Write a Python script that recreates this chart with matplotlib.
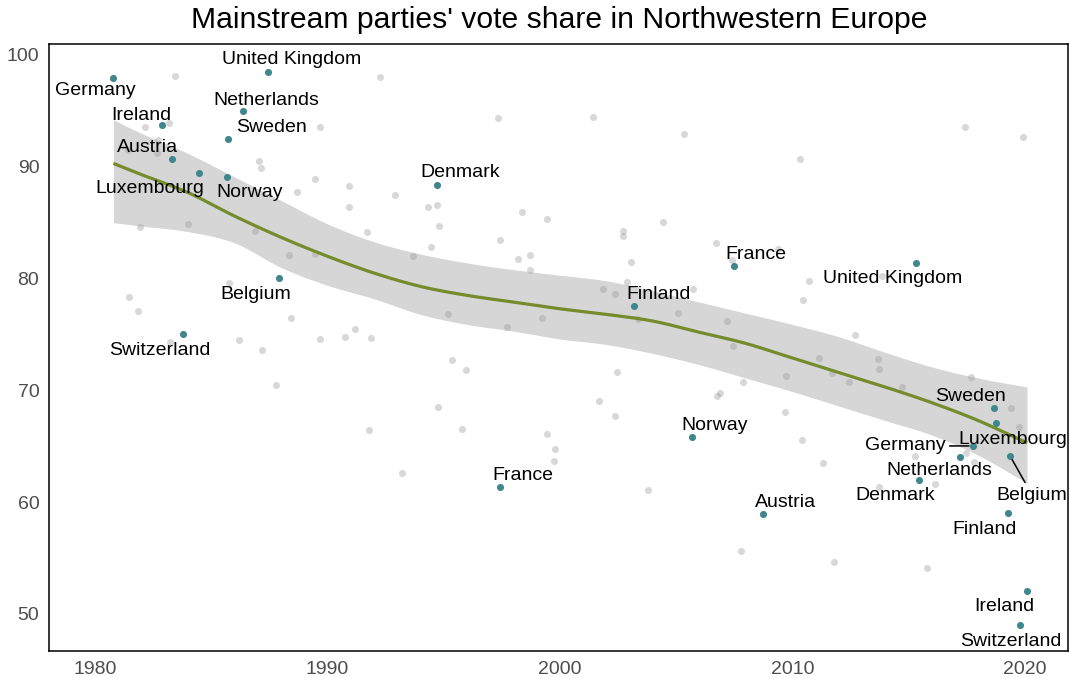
import matplotlib
matplotlib.use("Agg")
import matplotlib.pyplot as plt
import numpy as np

plt.rcParams["font.family"] = ["Liberation Sans", "DejaVu Sans"]

# ---- background elections (all countries, all years) ----
grey_year = [1983.45, 1982.16, 1983.20, 1982.72, 1981.43, 1982.68, 1987.07, 1987.15, 1988.70, 1981.95,
             1984.01, 1986.89, 1992.27, 1997.35, 1989.69, 1989.48, 1990.94, 1992.92, 1990.94, 1994.34,
             1994.72, 1994.81, 1998.38, 1999.45, 1991.71, 1997.43, 2001.43, 2005.35, 2010.34, 2004.44,
             2002.72, 2002.72, 2006.72, 2017.43, 2019.93, 1988.36, 1985.78, 1981.48, 1981.86, 1983.24,
             1986.21, 1987.20, 1988.44, 1987.80, 1989.48, 1994.46, 1993.69, 1998.21, 1998.72, 1998.72,
             1995.20, 1997.73, 1999.24, 1991.20, 1990.77, 1989.69, 1991.88, 1995.37, 1995.97, 1994.77,
             1991.80, 1995.80, 1999.45, 1999.80, 1999.75, 1993.22, 2003.07, 2007.41, 2009.39, 2010.72,
             2010.46, 2002.89, 2001.86, 2002.38, 2005.73, 2003.37, 2005.09, 2007.20, 2007.45, 2011.15,
             2009.73, 2002.46, 2007.88, 2006.89, 2006.77, 2001.69, 2002.38, 2009.69, 2010.42, 2013.86,
             2012.70, 2011.71, 2012.44, 2013.69, 2013.73, 2014.72, 2017.69, 2019.41, 2019.75, 2011.32,
             2015.28, 2017.48, 2017.82, 2013.73, 2016.14, 2011.80, 2015.80, 2003.80, 2007.80]
grey_share = [98.12, 93.56, 93.92, 92.40, 91.50, 91.23, 90.52, 89.89, 87.75, 84.62,
              84.88, 84.26, 98.03, 94.36, 93.56, 88.91, 88.28, 87.48, 86.40, 86.40,
              86.58, 84.70, 85.96, 85.33, 84.17, 83.45, 94.45, 92.93, 90.70, 85.06,
              84.26, 83.81, 83.18, 93.56, 92.67, 82.11, 79.61, 78.35, 77.10, 74.33,
              74.51, 73.61, 76.48, 70.48, 82.20, 82.83, 82.02, 81.75, 82.11, 80.77,
              76.83, 75.67, 76.48, 75.49, 74.78, 74.60, 74.69, 72.72, 71.82, 68.52,
              66.46, 66.55, 66.10, 64.76, 63.69, 62.61, 81.48, 81.66, 82.65, 79.79,
              78.09, 79.70, 79.07, 78.62, 79.07, 76.39, 76.92, 76.21, 73.97, 72.90,
              71.29, 71.65, 70.75, 69.77, 69.50, 69.05, 67.71, 68.07, 65.56, 80.23,
              74.96, 71.56, 70.75, 72.81, 71.91, 70.30, 71.20, 68.43, 66.73, 63.51,
              64.13, 64.40, 63.60, 61.36, 61.63, 54.65, 54.11, 61.09, 55.64]

# ---- first and last election of each country (highlighted) ----
hl_country = ["Germany", "United Kingdom", "Netherlands", "Ireland", "Sweden", "Austria",
              "Luxembourg", "Norway", "Denmark", "Belgium", "Switzerland",
              "France", "Finland", "United Kingdom", "Norway", "France", "Austria",
              "Sweden", "Luxembourg", "Germany", "Netherlands", "Denmark", "Belgium",
              "Finland", "Ireland", "Switzerland"]
hl_year = [1980.79, 1987.45, 1986.38, 1982.89, 1985.73, 1983.32,
           1984.49, 1985.69, 1994.72, 1987.93, 1983.80,
           2007.50, 2003.20, 2015.32, 2005.69, 1997.43, 2008.74,
           2018.68, 2018.77, 2017.78, 2017.22, 2015.45, 2019.37,
           2019.28, 2020.10, 2019.80]
hl_share = [97.94, 98.48, 94.99, 93.74, 92.49, 90.70,
            89.45, 89.09, 88.37, 80.05, 75.04,
            81.13, 77.55, 81.40, 65.83, 61.36, 58.94,
            68.43, 67.08, 65.03, 64.04, 61.99, 64.13,
            59.03, 52.06, 49.02]

# ---- loess trend with confidence band ----
fit_year = [1980.8, 1982, 1984, 1986, 1988, 1990, 1992, 1994, 1996, 1998, 2000,
            2002, 2004, 2006, 2008, 2010, 2012, 2014, 2016, 2018, 2020.1]
fit_share = [90.3, 89.3, 87.7, 85.6, 83.7, 82.0, 80.5, 79.3, 78.5, 77.9, 77.3,
             76.8, 76.2, 75.2, 74.2, 72.9, 71.6, 70.3, 68.9, 67.3, 65.3]
fit_hi = [94.2, 93.0, 91.2, 89.1, 87.0, 84.9, 83.3, 82.2, 81.4, 80.8, 80.3,
          79.8, 78.9, 77.9, 76.9, 75.9, 74.8, 73.4, 72.1, 71.1, 70.3]
fit_lo = [85.0, 84.7, 84.2, 83.2, 81.0, 79.4, 78.2, 76.8, 75.9, 75.3, 74.6,
          74.1, 73.3, 72.3, 71.1, 69.9, 68.6, 67.3, 66.0, 64.2, 61.7]

# label offsets in pixels (dx, dy) and which labels get a leader segment
label_offset = [(-18, -13), (24, 12), (23, 10), (-21, 9), (43, 11), (-24, 11),
                (-49, -16), (23, -16), (23, 12), (-23, -16), (-23, -16),
                (22, 11), (24, 11), (-23, -16), (23, 12), (23, 11), (23, 12),
                (-24, 11), (17, -16), (-68, 0), (-21, -13), (-24, -16), (22, -39),
                (-23, -16), (-23, -16), (-9, -17)]
leader = [False] * 19 + [True, False, False, True, False, False, False]


def smooth(x, y, n=16):
    # Catmull-Rom curve through the read-off points, just for a smooth drawing
    x = np.asarray(x, float)
    y = np.asarray(y, float)
    px = np.concatenate([[2 * x[0] - x[1]], x, [2 * x[-1] - x[-2]]])
    py = np.concatenate([[2 * y[0] - y[1]], y, [2 * y[-1] - y[-2]]])
    t = np.linspace(0, 1, n, endpoint=False)
    xs, ys = [], []
    for i in range(1, len(px) - 2):
        for p, out in ((px, xs), (py, ys)):
            p0, p1, p2, p3 = p[i - 1], p[i], p[i + 1], p[i + 2]
            out.append(0.5 * (2 * p1 + (-p0 + p2) * t
                              + (2 * p0 - 5 * p1 + 4 * p2 - p3) * t ** 2
                              + (-p0 + 3 * p1 - 3 * p2 + p3) * t ** 3))
    xs.append([x[-1]])
    ys.append([y[-1]])
    return np.concatenate(xs), np.concatenate(ys)


W, H = 1069, 678
fig = plt.figure(figsize=(W / 100, H / 100), dpi=100)
ax = fig.add_axes([49 / W, (H - 651) / H, (1068 - 49) / W, (651 - 44) / H])

ax.scatter(grey_year, grey_share, s=26, color="#808080", alpha=0.3, linewidths=0, zorder=2)
sx, s_hi = smooth(fit_year, fit_hi)
_, s_lo = smooth(fit_year, fit_lo)
ax.fill_between(sx, s_lo, s_hi, color="#999999", alpha=0.4, linewidth=0, zorder=3)
lx, ly = smooth(fit_year, fit_share)
ax.plot(lx, ly, color="#768b2c", lw=2.3, zorder=4, solid_capstyle="butt")
ax.scatter(hl_year, hl_share, s=26, color="#3f878c", linewidths=0, zorder=5)

for name, x, y, off, seg in zip(hl_country, hl_year, hl_share, label_offset, leader):
    kw = {}
    if seg:
        kw["arrowprops"] = dict(arrowstyle="-", color="black", lw=1.1,
                                shrinkA=1, shrinkB=3)
    ax.annotate(name, (x, y), xytext=off, textcoords="offset pixels",
                ha="center", va="center", fontsize=14, color="black", zorder=6, **kw)

ax.set_xlim(1978.03, 2021.86)
ax.set_ylim(46.69, 100.98)
ax.set_xticks([1980, 1990, 2000, 2010, 2020])
ax.set_yticks([50, 60, 70, 80, 90, 100])
ax.tick_params(length=0, labelsize=14, labelcolor="#4d4d4d", pad=7)
ax.tick_params(axis="x", pad=7.5)
for sp in ax.spines.values():
    sp.set_linewidth(1.1)
    sp.set_color("black")

fig.text(559 / W, 1 - 20 / H, "Mainstream parties' vote share in Northwestern Europe",
         ha="center", va="center", fontsize=21.7, color="black")

fig.savefig("out.png", dpi=100)
